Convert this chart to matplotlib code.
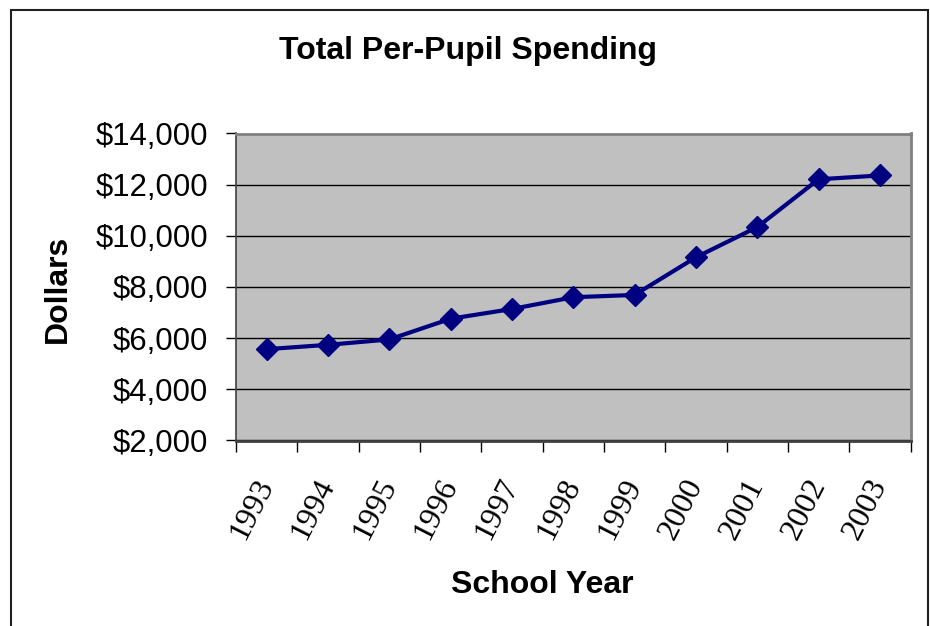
import matplotlib
matplotlib.use("Agg")
import matplotlib.pyplot as plt
from matplotlib.patches import Rectangle
from matplotlib.ticker import StrMethodFormatter

# values
years = ["1993", "1994", "1995", "1996", "1997", "1998",
         "1999", "2000", "2001", "2002", "2003"]
spending = [5570, 5740, 5950, 6760, 7140, 7600,
            7690, 9160, 10340, 12210, 12360]
y_ticks = [2000, 4000, 6000, 8000, 10000, 12000, 14000]

W, H = 930, 626
NAVY = "#000080"
SANS = "Liberation Sans"
SERIF = "Liberation Serif"


def fx(px):
    return px / W


def fy(py):
    return 1 - py / H


fig = plt.figure(figsize=(W / 100, H / 100), dpi=100)

# outer chart border (bottom edge runs off the picture)
fig.patches.append(Rectangle((fx(11), fy(640)), fx(928) - fx(11), fy(10) - fy(640),
                             transform=fig.transFigure, fill=False,
                             edgecolor="#202020", linewidth=1.5))

ax = fig.add_axes([fx(236), fy(440.5), fx(910.5) - fx(236), fy(133.5) - fy(440.5)])
ax.set_facecolor("#C0C0C0")

x = list(range(len(years)))
ax.plot(x, spending, color=NAVY, linewidth=3, marker="D", markersize=11,
        markerfacecolor=NAVY, markeredgecolor=NAVY, zorder=3, clip_on=False)

ax.set_xlim(-0.5, len(years) - 0.5)
ax.set_ylim(y_ticks[0], y_ticks[-1])

ax.set_yticks(y_ticks)
ax.yaxis.set_major_formatter(StrMethodFormatter("${x:,.0f}"))
ax.grid(axis="y", color="black", linewidth=1)
ax.set_axisbelow(True)

# category labels sit at the centres, tick marks between categories
ax.set_xticks(x)
ax.set_xticklabels(years, rotation=63, rotation_mode="anchor", ha="right",
                   va="center", family=SERIF, fontsize=23)
ax.set_xticks([i - 0.5 for i in range(len(years) + 1)], minor=True)
ax.tick_params(axis="x", which="major", length=0, pad=29)
ax.tick_params(axis="x", which="minor", length=8, width=1, color="black")
ax.tick_params(axis="y", length=7, width=1, color="black", pad=13)
for lab in ax.get_yticklabels():
    lab.set_family(SANS)
    lab.set_fontsize(22.4)

for side in ("top", "right"):
    ax.spines[side].set_color("#808080")
    ax.spines[side].set_linewidth(2)
ax.spines["left"].set_color("#404040")
ax.spines["left"].set_linewidth(1.2)
ax.spines["bottom"].set_color("#404040")
ax.spines["bottom"].set_linewidth(2)

fig.text(fx(468), fy(51), "Total Per-Pupil Spending", ha="center", va="center",
         family=SANS, fontsize=23, fontweight="bold")
fig.text(fx(57.5), fy(288.5), "Dollars", ha="center", va="center", rotation=90,
         family=SANS, fontsize=23, fontweight="bold")
fig.text(fx(542), fy(585), "School Year", ha="center", va="center",
         family=SANS, fontsize=23, fontweight="bold")

fig.savefig("out.png", dpi=100)
